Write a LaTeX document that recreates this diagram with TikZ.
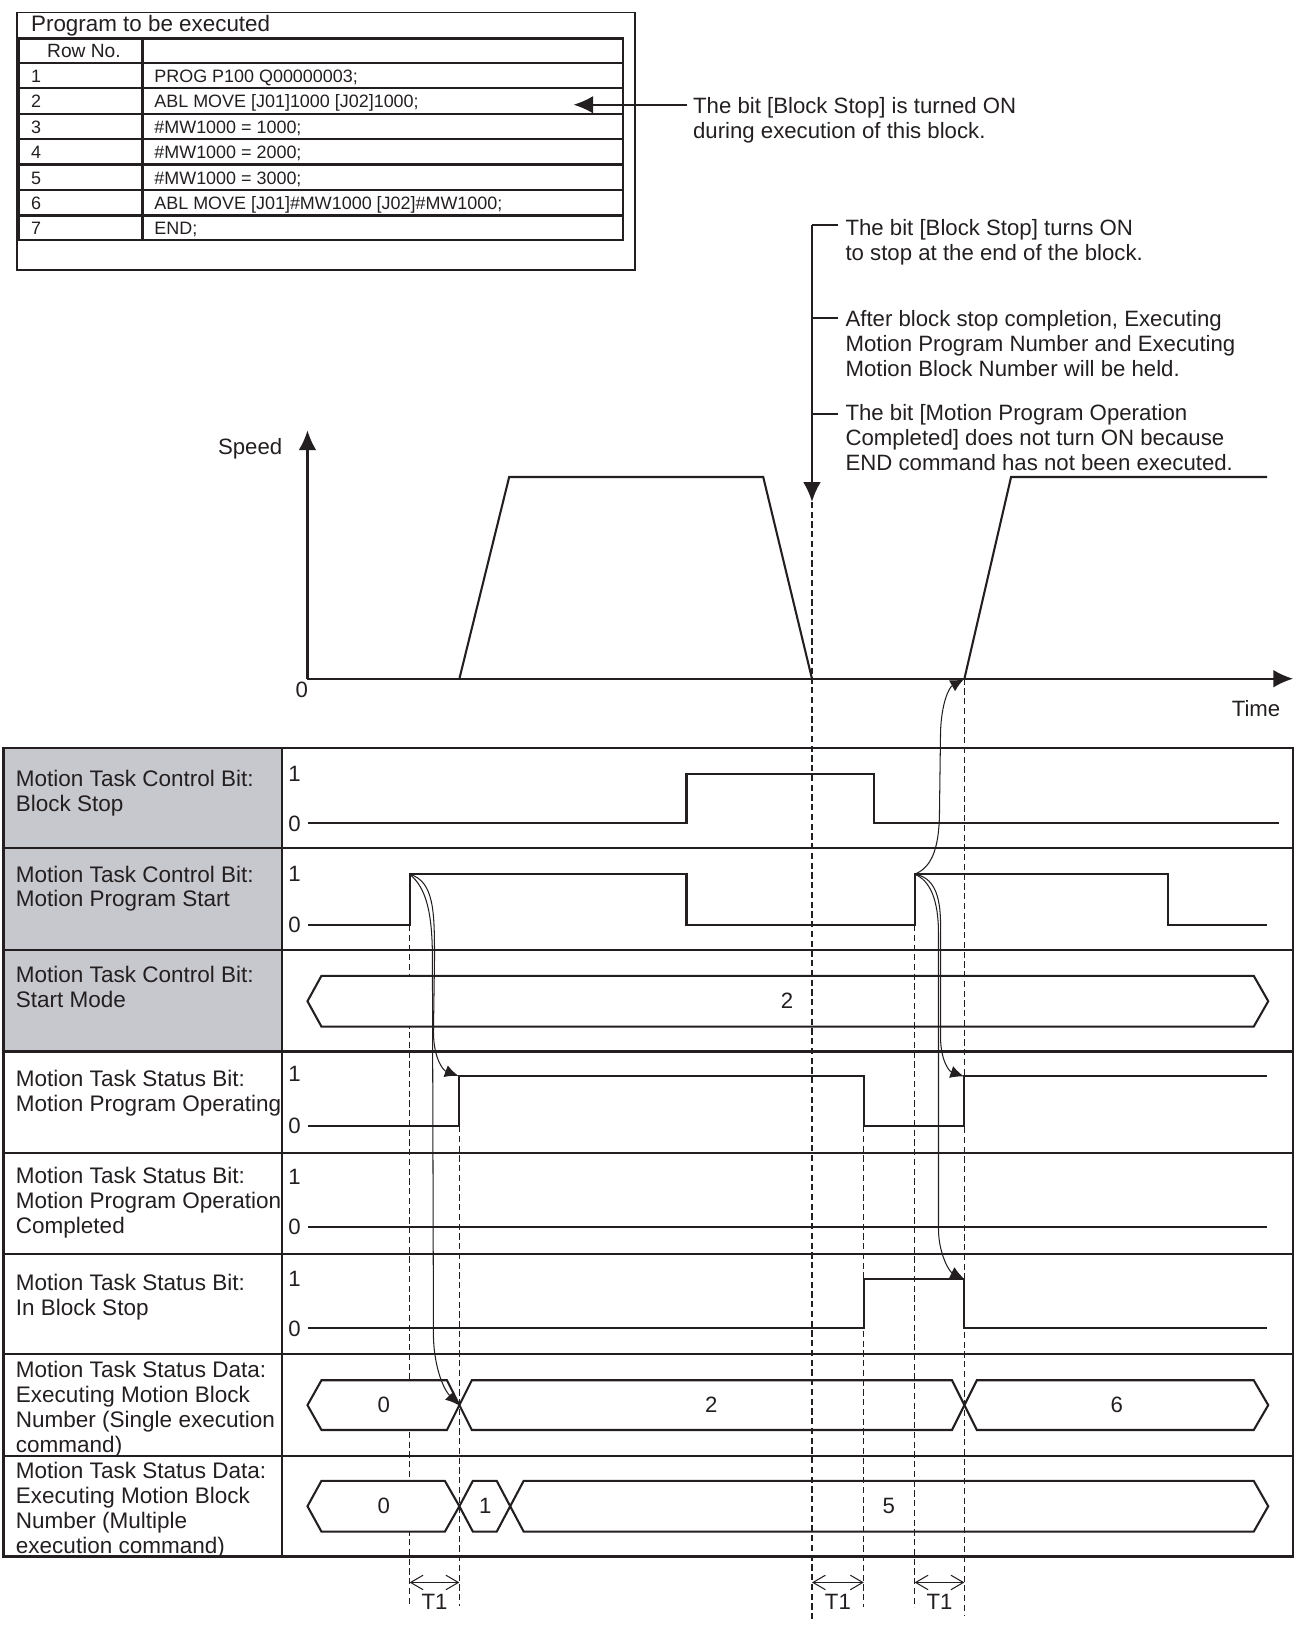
\documentclass[tikz,border=0pt]{standalone}
\usepackage{fontspec}
\setmainfont{Liberation Sans}
\usetikzlibrary{arrows.meta}
\definecolor{cellgray}{RGB}{199,200,206}
\definecolor{ink}{RGB}{35,31,32}
\begin{document}
\begin{tikzpicture}[x=0.5pt,y=-0.5pt,
  every node/.style={inner sep=0pt,text=ink},
  font=\fontsize{10.7}{12}\selectfont,
  lbl/.style={anchor=north west,align=left},
  rowlbl/.style={anchor=north west,align=left,font=\fontsize{10.85}{12}\selectfont},
  codef/.style={anchor=base west,font=\fontsize{8.65}{10}\selectfont},
  grid/.style={line width=1.1pt,draw=ink},
  sig/.style={line width=1pt,draw=ink},
  guide/.style={line width=0.6pt,draw=ink,dash pattern=on 3pt off 1.7pt},
  cause/.style={line width=0.5pt,draw=ink,-{Latex[length=6.5pt,width=6pt]}},
  bigtip/.style={-{Latex[length=9.5pt,width=8.5pt]}},
  tone/.style={line width=0.5pt,draw=ink,{Straight Barb[length=6pt,width=7pt]}-{Straight Barb[length=6pt,width=7pt]}},
  lev/.style={anchor=center},
  bus/.style={line width=1pt,draw=ink,fill=white}]
\useasboundingbox (0,0) rectangle (1250,1568);

% ---------- program table ----------
\draw[line width=0.9pt,draw=ink] (16,12) rectangle (612,260);
\node[anchor=base west,font=\fontsize{10.8}{12}\selectfont] (title) at (29.6,30.6) {Program to be executed};
\draw[grid] (18.5,37) rectangle (601,231.5);
\foreach \y in {61,85,110,134,158.5,183,207.7} \draw[grid] (18.5,\y) -- (601,\y);
\draw[grid] (137.5,37) -- (137.5,231.5);
\node[anchor=base,font=\fontsize{9.25}{11}\selectfont] (rowno) at (81,55.6) {Row No.};
\node[codef] (n1) at (29.5,79.4) {1};
\node[codef] (c1) at (148.5,79.4) {PROG P100 Q00000003;};
\node[codef] (n2) at (29.5,104.1) {2};
\node[codef] (c2) at (148.5,104.1) {ABL MOVE [J01]1000 [J02]1000;};
\node[codef] (n3) at (29.5,129.1) {3};
\node[codef] (c3) at (148.5,129.1) {\#MW1000 = 1000;};
\node[codef] (n4) at (29.5,153.1) {4};
\node[codef] (c4) at (148.5,153.1) {\#MW1000 = 2000;};
\node[codef] (n5) at (29.5,177.5) {5};
\node[codef] (c5) at (148.5,177.5) {\#MW1000 = 3000;};
\node[codef] (n6) at (29.5,201.6) {6};
\node[codef] (c6) at (148.5,201.6) {ABL MOVE [J01]\#MW1000 [J02]\#MW1000;};
\node[codef] (n7) at (29.5,226.1) {7};
\node[codef] (c7) at (148.5,226.1) {END;};

% note on row 2
\node[lbl] (note1) at (668,93.4) {The bit [Block Stop] is turned ON\\during execution of this block.};
\coordinate (n1from) at (662.5,101);
\coordinate (n1to) at (553,101);
\draw[sig,bigtip] (n1from) -- (n1to);

% ---------- annotations on the right ----------
\coordinate (bstop) at (783,217);
\coordinate (bstip) at (783,484);
\draw[sig,bigtip] (bstop) -- (bstip);
\coordinate (t2) at (783,307);
\coordinate (t3) at (783,399);
\draw[sig] (bstop) -- ++(25,0);
\draw[sig] (t2) -- ++(25,0);
\draw[sig] (t3) -- ++(25,0);
\node[lbl] (note2) at (815,211.4) {The bit [Block Stop] turns ON\\to stop at the end of the block.};
\node[lbl] (note3) at (815,299.4) {After block stop completion, Executing\\Motion Program Number and Executing\\Motion Block Number will be held.};
\node[lbl] (note4) at (815,389.9) {The bit [Motion Program Operation\\Completed] does not turn ON because\\END command has not been executed.};

% ---------- speed graph ----------
\coordinate (O) at (296.5,654.5);
\coordinate (ytip) at (296.5,415);
\coordinate (xtip) at (1247,654.5);
\draw[sig,bigtip] (O) -- (ytip);
\draw[sig,bigtip] (O) -- (xtip);
\node[anchor=base east] (speed) at (272.6,438.4) {Speed};
\node[anchor=center] (zero) at (291,665) {0};
\node[anchor=base east] (time) at (1235,690.6) {Time};
\draw[sig] (443,654.5) -- (491,460) -- (736,460) -- (783,654.5);
\draw[sig] (930,654.5) -- (975,460) -- (1222,460);

% ---------- timing table ----------
\fill[cellgray] (3.5,721) rectangle (272,1014);
\draw[grid] (3.5,721) rectangle (1247,1501);
\foreach \y in {818,916,1014,1112,1209,1306,1404} \draw[grid] (3.5,\y) -- (1247,\y);
\draw[grid] (272,721) -- (272,1501);

\node[rowlbl] (r1) at (15,742) {Motion Task Control Bit:\\Block Stop};
\node[rowlbl] (r2) at (15,834.5) {Motion Task Control Bit:\\Motion Program Start};
\node[rowlbl] (r3) at (15,931) {Motion Task Control Bit:\\Start Mode};
\node[rowlbl] (r4) at (15,1031.5) {Motion Task Status Bit:\\Motion Program Operating};
\node[rowlbl] (r5) at (15,1125.5) {Motion Task Status Bit:\\Motion Program Operation\\Completed};
\node[rowlbl] (r6) at (15,1228) {Motion Task Status Bit:\\In Block Stop};
\node[rowlbl] (r7) at (15,1312.5) {Motion Task Status Data:\\Executing Motion Block\\Number (Single execution\\command)};
\node[rowlbl] (r8) at (15,1409.5) {Motion Task Status Data:\\Executing Motion Block\\Number (Multiple\\execution command)};

% level labels
\node[lev] (h1) at (284,746) {1}; \node[lev] (l1) at (284,794) {0};
\node[lev] (h2) at (284,843) {1}; \node[lev] (l2) at (284,892) {0};
\node[lev] (h4) at (284,1036) {1}; \node[lev] (l4) at (284,1086) {0};
\node[lev] (h5) at (284,1135) {1}; \node[lev] (l5) at (284,1183) {0};
\node[lev] (h6) at (284,1233) {1}; \node[lev] (l6) at (284,1281) {0};

% guide line hidden by buses
\draw[guide] (395,892) -- (395,1549);

% signals
\draw[sig] (297,794) -- (662,794) -- (662,746) -- (843,746) -- (843,794) -- (1233,794);
\draw[sig] (297,892) -- (395,892) -- (395,843) -- (662,843) -- (662,892) -- (882,892) -- (882,843) -- (1126,843) -- (1126,892) -- (1222,892);
\draw[sig] (297,1086) -- (443,1086) -- (443,1038) -- (833,1038) -- (833,1086) -- (930,1086) -- (930,1038) -- (1222,1038);
\draw[sig] (297,1183) -- (1222,1183);
\draw[sig] (297,1281) -- (833,1281) -- (833,1233) -- (930,1233) -- (930,1281) -- (1222,1281);

% buses
\draw[bus] (296.5,965.5) -- (310,941) -- (1209,941) -- (1223,965.5) -- (1209,990) -- (310,990) -- cycle;
\node (b3) at (759,965.5) {2};
\draw[bus] (296.5,1355) -- (310,1331) -- (431,1331) -- (443,1355) -- (431,1379) -- (310,1379) -- cycle;
\draw[bus] (443,1355) -- (455,1331) -- (918,1331) -- (930,1355) -- (918,1379) -- (455,1379) -- cycle;
\draw[bus] (930,1355) -- (942,1331) -- (1209,1331) -- (1223,1355) -- (1209,1379) -- (942,1379) -- cycle;
\node (b7a) at (370,1355) {0};
\node (b7b) at (686,1355) {2};
\node (b7c) at (1077,1355) {6};
\draw[bus] (296.5,1452.5) -- (310,1428) -- (429,1428) -- (443,1452.5) -- (429,1477) -- (310,1477) -- cycle;
\draw[bus] (443,1452.5) -- (456,1428) -- (479,1428) -- (492,1452.5) -- (479,1477) -- (456,1477) -- cycle;
\draw[bus] (492,1452.5) -- (505,1428) -- (1209,1428) -- (1223,1452.5) -- (1209,1477) -- (505,1477) -- cycle;
\node (b8a) at (370,1452.5) {0};
\node (b8b) at (468,1452.5) {1};
\node (b8c) at (857,1452.5) {5};

% other guide lines
\draw[guide] (443,1086) -- (443,1549);
\draw[guide] (bstip) -- (783,1564);
\draw[guide] (833,1086) -- (833,1550);
\draw[guide] (882,892) -- (882,1550);
\draw[guide] (930,654.5) -- (930,1557);

% cause arrows
\coordinate (startA) at (395,843);
\coordinate (opA) at (442,1037.5);
\coordinate (busA) at (442.5,1355);
\coordinate (startB) at (882,843);
\coordinate (spdB) at (929.5,655);
\coordinate (opB) at (929.5,1038);
\coordinate (ibsB) at (929.5,1233);
\draw[cause] (startA) .. controls (419,850) and (419,880) .. (419,925) -- (418,995) .. controls (418,1020) and (427,1032) .. (opA);
\draw[cause] (startA) .. controls (411,856) and (417,880) .. (417,925) -- (418,1290) .. controls (419,1320) and (428,1340) .. (busA);
\draw[cause] (startB) .. controls (900,836) and (906,815) .. (906,780) -- (907,705) .. controls (908,678) and (915,663) .. (spdB);
\draw[cause] (startB) .. controls (900,846) and (907,862) .. (907,892) -- (907,1000) .. controls (907,1022) and (915,1033) .. (opB);
\draw[cause] (startB) .. controls (897,849) and (905,868) .. (905,900) -- (905,1185) .. controls (905,1208) and (915,1226) .. (ibsB);

% T1 spans
\coordinate (ta1) at (395,1526); \coordinate (tb1) at (443,1526);
\coordinate (ta2) at (783,1526); \coordinate (tb2) at (833,1526);
\coordinate (ta3) at (882,1526); \coordinate (tb3) at (930,1526);
\draw[tone] (ta1) -- (tb1);
\draw[tone] (ta2) -- (tb2);
\draw[tone] (ta3) -- (tb3);
\node (T1a) at (419,1545) {T1};
\node (T1b) at (808,1545) {T1};
\node (T1c) at (906,1545) {T1};
\end{tikzpicture}
\end{document}
